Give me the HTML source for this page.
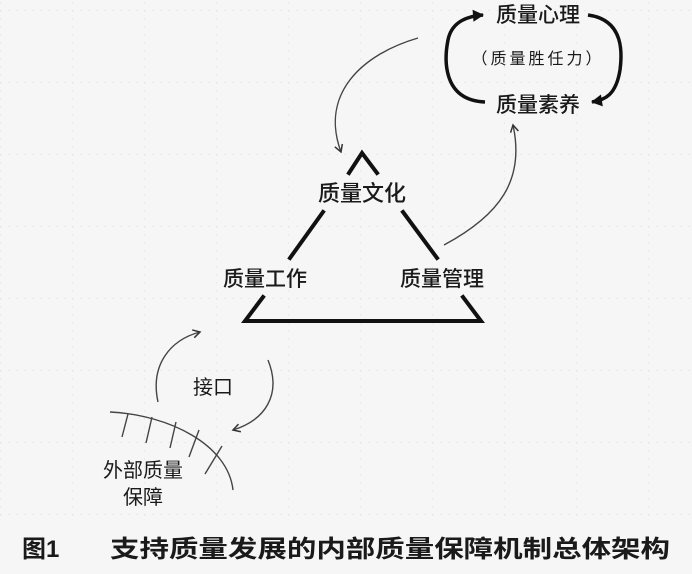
<!DOCTYPE html>
<html><head><meta charset="utf-8"><style>
html,body{margin:0;padding:0;background:#f6f6f6}
svg{display:block}
text{font-family:"Liberation Sans","Noto Sans CJK SC",sans-serif;fill:#1a1a1a}
</style></head><body>
<svg width="692" height="574" viewBox="0 0 692 574" xmlns="http://www.w3.org/2000/svg">
<defs>
<pattern id="g" width="72" height="72" patternUnits="userSpaceOnUse" x="0" y="10">
<path d="M0 0H72M0 0V72" stroke="#ddd" stroke-width="1" stroke-dasharray="2 6" fill="none"/>
</pattern>
<marker id="a" markerWidth="10" markerHeight="10" refX="8" refY="5" orient="auto" markerUnits="userSpaceOnUse">
<path d="M1 1L8 5L1 9" fill="none" stroke="#333" stroke-width="1.5"/></marker>
<marker id="b" markerWidth="14" markerHeight="14" refX="11" refY="7" orient="auto" markerUnits="userSpaceOnUse">
<path d="M1 1L12 7L1 13Z" fill="#111"/></marker>
</defs>
<rect width="692" height="520" fill="url(#g)"/>
<g stroke="#111" stroke-width="4" fill="none" stroke-linecap="square">
<path d="M349 173L362 153L377 173"/>
<path d="M323 212L290 258"/>
<path d="M263 297L245 321H481L463 297"/>
<path d="M403 212L437 258"/>
</g>
<text x="362" y="201" font-size="22" text-anchor="middle" font-weight="500">质量文化</text>
<text x="265" y="286" font-size="21" text-anchor="middle" font-weight="500">质量工作</text>
<text x="442" y="286" font-size="21" text-anchor="middle" font-weight="500">质量管理</text>
<g fill="none" stroke="#444" stroke-width="1.4">
<path d="M418 38C360 55 320 95 341 152" marker-end="url(#a)"/>
<path d="M444 245C500 215 525 180 513 125" marker-end="url(#a)"/>
<path d="M158 402C150 365 170 340 200 332" marker-end="url(#a)"/>
<path d="M268 360C282 395 265 420 233 430" marker-end="url(#a)"/>
<path d="M110 412C170 415 228 445 233 490"/>
<path d="M128 414L122 437M152 417L146 443M176 422L170 448M199 430L189 457M222 446L205 474"/>
</g>
<g fill="none" stroke="#111" stroke-width="3.5">
<path d="M485 102C440 100 445 55 448 40C452 20 470 16 483 15" marker-end="url(#b)"/>
<path d="M588 15C625 20 622 55 620 70C616 95 605 100 592 102" marker-end="url(#b)"/>
</g>
<text x="538" y="22" font-size="21" text-anchor="middle" font-weight="500">质量心理</text>
<text x="538" y="64" font-size="16" text-anchor="middle" font-family="Liberation Serif,'Noto Serif CJK SC',serif" letter-spacing="3">（质量胜任力）</text>
<text x="538" y="112" font-size="21" text-anchor="middle" font-weight="500">质量素养</text>
<text x="213" y="394" font-size="20" text-anchor="middle">接口</text>
<text x="143" y="477" font-size="20" text-anchor="middle">外部质量</text>
<text x="143" y="504" font-size="20" text-anchor="middle">保障</text>
<text x="22" y="557" font-size="24" font-weight="bold">图1</text>
<text x="110" y="557" font-size="24" font-weight="bold" textLength="560" lengthAdjust="spacingAndGlyphs">支持质量发展的内部质量保障机制总体架构</text>
</svg>
</body></html>
